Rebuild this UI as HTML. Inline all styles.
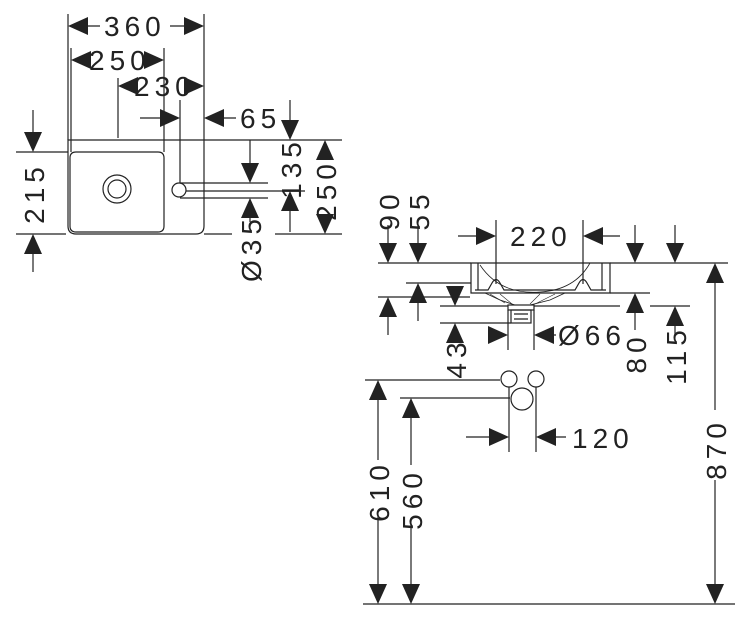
<!DOCTYPE html>
<html><head><meta charset="utf-8"><style>
html,body{margin:0;padding:0;background:#fff;}
svg{display:block}
text{font-family:"Liberation Sans",sans-serif;font-size:28px;fill:#222;letter-spacing:5px}
</style></head><body>
<svg width="754" height="630" viewBox="0 0 754 630" xmlns="http://www.w3.org/2000/svg">
<g stroke="#222" stroke-width="1.2" fill="none">
<path d="M68 140 H204 V226 Q204 234 196 234 H76 Q68 234 68 226 Z"/>
<path d="M76 152 H158 Q164 152 164 158 V226 Q164 232 158 232 H76 Q70 232 70 226 V158 Q70 152 76 152 Z"/>
<circle cx="117" cy="189" r="14"/><circle cx="117" cy="189" r="9"/>
<circle cx="179" cy="190" r="7"/>
<path d="M68 14 V140 M204 14 V140 M71 48 V152 M164 48 V152 M118 78 V138 M180 100 V183 M164 100 V152"/>
<path d="M16 152 H68 M16 234 H66 M204 140 H342 M204 234 H232 M275 234 H342 M180 183 H268 M180 198 H268 M186 191 H305"/>
<path d="M82 26 H100 M170 26 H190 M140 118 H166 M217 118 H236"/>
<path d="M33 110 V140 M33 246 V272 M290 100 V127 M290 203 V232 M250 140 V170 M250 211 V222 M325 154 V156 M325 218 V220"/>
<path d="M471 263 H610 V293 H471 Z"/>
<path d="M478 263 V290 M602 263 V290"/>
<path d="M480 265 Q500 295 540 292 Q575 290 590 263" stroke-width="0.8"/>
<path d="M475 290 H488 L492 283 Q496 276 500 283 L504 290 H575 L579 283 Q583 276 587 283 L591 290 H606"/>
<path d="M485 293 L500 300 L515 305 H530 L550 300 L565 293" stroke-width="0.9"/>
<path d="M490 294 L505 303 M500 294 L512 304 M540 294 L530 304 M555 294 L535 304" stroke-width="0.6"/>
<rect x="508" y="305" width="26" height="5"/>
<rect x="511" y="310" width="20" height="13"/>
<path d="M514 314 H528 M514 319 H528"/>
<path d="M378 263 H471 M610 263 H728 M406 283 H471 M378 297 H470 M440 306 H508 M534 306 H620 M440 323 H511 M610 293 H650 M650 306 H690"/>
<path d="M496 220 V284 M583 220 V284 M508 310 V350 M534 310 V350"/>
<path d="M365 380 H500 M400 398 H510 M509 387 V452 M536 387 V452"/>
<path d="M363 604 H735"/>
<path d="M458 236 H480 M599 236 H620 M548 335 H556 M466 437 H491 M554 437 H566"/>
<path d="M388 225 V245 M418 225 V245 M635 225 V245 M675 225 V245 M388 315 V335 M418 301 V321 M635 311 V330 M675 324 V335"/>
<path d="M378 398 V460 M378 515 V586 M411 416 V465 M411 525 V586 M715 281 V410 M715 480 V586"/>
<circle cx="509" cy="379" r="8"/><circle cx="536" cy="379" r="8"/><circle cx="522" cy="399" r="11"/>
</g>
<g fill="#222" id="arr"></g>
<text x="104" y="36">360</text>
<text x="89" y="70">250</text>
<text x="134" y="96">230</text>
<text x="240" y="128">65</text>
<text transform="translate(44,193) rotate(-90)" text-anchor="middle">215</text>
<text transform="translate(301,168) rotate(-90)" text-anchor="middle">135</text>
<text transform="translate(336,190) rotate(-90)" text-anchor="middle">250</text>
<text transform="translate(261,248) rotate(-90)" text-anchor="middle">Ø35</text>
<text transform="translate(399,210) rotate(-90)" text-anchor="middle">90</text>
<text transform="translate(429,210) rotate(-90)" text-anchor="middle">55</text>
<text x="510" y="246">220</text>
<text transform="translate(466,358) rotate(-90)" text-anchor="middle">43</text>
<text x="558" y="345">Ø66</text>
<text transform="translate(646,353) rotate(-90)" text-anchor="middle">80</text>
<text transform="translate(686,355) rotate(-90)" text-anchor="middle">115</text>
<text x="572" y="448">120</text>
<text transform="translate(389,491) rotate(-90)" text-anchor="middle">610</text>
<text transform="translate(422,499) rotate(-90)" text-anchor="middle">560</text>
<text transform="translate(726,449) rotate(-90)" text-anchor="middle">870</text>
<script>
(function(){
var g=document.getElementById('arr');
function a(x,y,d){var L=20,W=9,p;
if(d=='l')p=[[x,y],[x+L,y-W],[x+L,y+W]];
if(d=='r')p=[[x,y],[x-L,y-W],[x-L,y+W]];
if(d=='u')p=[[x,y],[x-W,y+L],[x+W,y+L]];
if(d=='d')p=[[x,y],[x-W,y-L],[x+W,y-L]];
var e=document.createElementNS('http://www.w3.org/2000/svg','polygon');
e.setAttribute('points',p.map(function(q){return q.join(',')}).join(' '));g.appendChild(e);}
a(68,26,'l');a(204,26,'r');
a(71,60,'l');a(164,60,'r');
a(118,86,'l');a(204,86,'r');
a(180,118,'r');a(204,118,'l');
a(33,152,'d');a(33,234,'u');
a(290,140,'d');a(290,191,'u');
a(250,183,'d');a(250,198,'u');
a(325,140,'u');a(325,234,'d');
a(496,236,'r');a(583,236,'l');
a(388,263,'d');a(418,263,'d');a(635,263,'d');a(675,263,'d');
a(388,297,'u');a(418,283,'u');a(455,306,'d');a(455,323,'u');
a(635,293,'u');a(675,306,'u');
a(508,335,'r');a(534,335,'l');
a(509,437,'r');a(536,437,'l');
a(378,380,'u');a(378,604,'d');a(411,398,'u');a(411,604,'d');
a(715,263,'u');a(715,604,'d');
})();
</script>
</svg>
</body></html>
